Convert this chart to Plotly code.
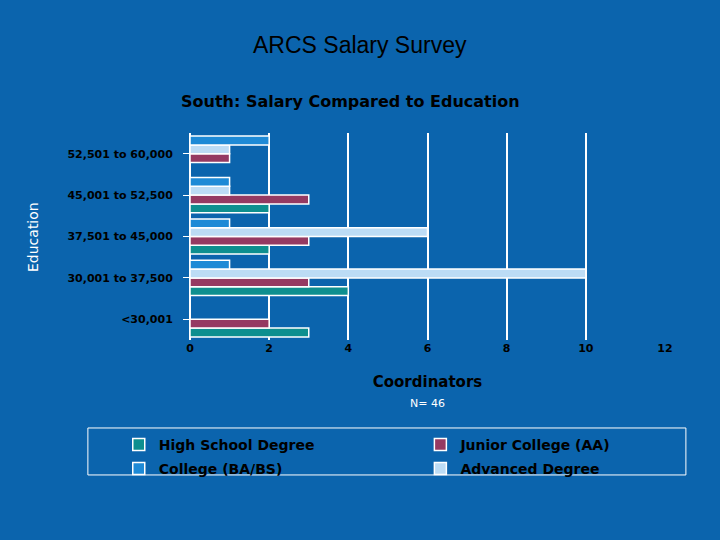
import plotly.graph_objects as go

categories = ["<30,001", "30,001 to 37,500", "37,501 to 45,000",
              "45,001 to 52,500", "52,501 to 60,000"]
high_school = [3, 4, 2, 2, 0]
junior_college = [2, 3, 3, 3, 1]
advanced = [0, 10, 6, 1, 1]
college = [0, 1, 1, 1, 2]

bg = "#0b64ad"

fig = go.Figure()

# (name, values, colour, legend slot)
series = [
    ("High School Degree", high_school, "#0e8f8f", "legend"),
    ("Junior College (AA)", junior_college, "#953a62", "legend2"),
    ("Advanced Degree", advanced, "#bcdcf5", "legend4"),
    ("College (BA/BS)", college, "#1e8ad6", "legend3"),
]
for name, vals, color, leg in series:
    fig.add_trace(go.Bar(
        y=categories,
        x=vals,
        name=name,
        orientation="h",
        marker=dict(color=color, line=dict(color="white", width=1.5)),
        legend=leg,
        showlegend=True,
    ))


def legend_at(x, y):
    return dict(
        x=x, xanchor="left",
        y=y, yanchor="top",
        bgcolor="rgba(0,0,0,0)",
        font=dict(size=14, color="black", weight="bold"),
    )


fig.update_layout(
    width=720,
    height=540,
    showlegend=True,
    paper_bgcolor=bg,
    plot_bgcolor=bg,
    barmode="group",
    bargap=0.15,
    bargroupgap=0,
    margin=dict(l=190, r=55, t=133, b=200),
    font=dict(family="DejaVu Sans, Verdana", color="black"),
    xaxis=dict(
        range=[0, 12],
        dtick=2,
        showgrid=True,
        gridcolor="white",
        gridwidth=1.5,
        zeroline=True,
        zerolinecolor="white",
        zerolinewidth=2,
        tickfont=dict(size=11, color="black", weight="bold"),
        title=dict(text="<b>Coordinators</b><br><span style='font-size:11px;color:white'>N= 46</span>",
                   font=dict(size=15, color="black"), standoff=22),
    ),
    yaxis=dict(
        showgrid=False,
        ticks="outside",
        tickcolor="white",
        ticklen=6,
        showline=False,
        tickfont=dict(size=11, color="black", weight="bold"),
        ticklabelstandoff=8,
    ),
    legend=legend_at(-0.15, -0.43),
    legend2=legend_at(0.485, -0.43),
    legend3=legend_at(-0.15, -0.545),
    legend4=legend_at(0.485, -0.545),
)

# legend frame
fig.add_shape(type="rect", xref="paper", yref="paper",
              x0=-0.215, x1=1.044, y0=-0.652, y1=-0.425,
              line=dict(color="white", width=1))

fig.add_annotation(text="ARCS Salary Survey", xref="paper", yref="paper",
                   x=0.5, y=1.0, yanchor="middle", showarrow=False,
                   font=dict(family="Liberation Sans, Arial", size=23, color="black"),
                   xshift=-68, yshift=88)
fig.add_annotation(text="<b>South: Salary Compared to Education</b>", xref="paper", yref="paper",
                   x=0.5, y=1.0, yanchor="middle", showarrow=False,
                   font=dict(size=16, color="black"), xshift=-77, yshift=32)
fig.add_annotation(text="Education", xref="paper", yref="paper",
                   x=0, y=1.0, xanchor="center", yanchor="middle", showarrow=False,
                   textangle=-90, font=dict(size=14, color="white"),
                   xshift=-157, yshift=-104)

fig.write_html("out.html", config={"displayModeBar": False},
               post_script="document.body.style.margin='0';")
